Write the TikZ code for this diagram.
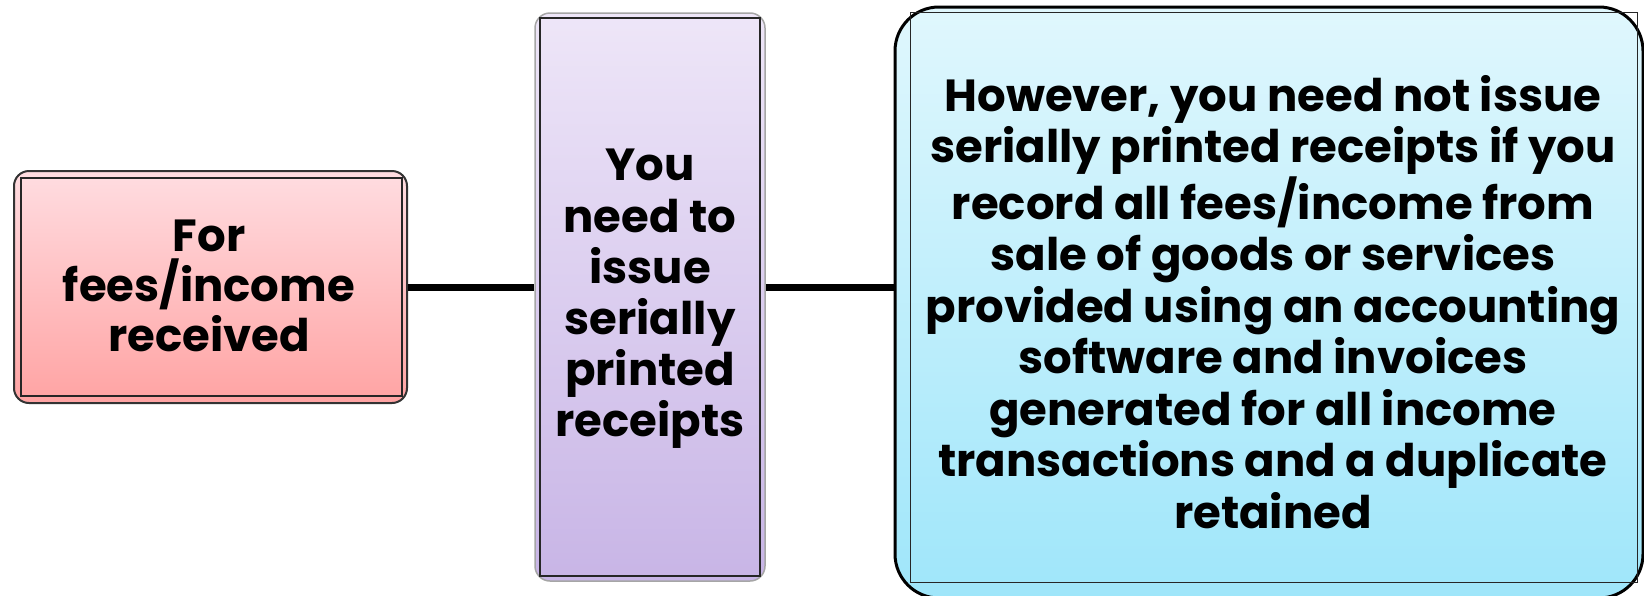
\documentclass[tikz,border=0pt]{standalone}
\usepackage{fontspec}
\setmainfont{Poppins}

\definecolor{pinktop}{HTML}{FFDDE1}
\definecolor{pinkbot}{HTML}{FFA3A3}
\definecolor{lilactop}{HTML}{EEE6F8}
\definecolor{lilacbot}{HTML}{C8B5E6}
\definecolor{skytop}{HTML}{E0F7FD}
\definecolor{skybot}{HTML}{9FE6FA}

\tikzset{
  panel/.style={rounded corners=7.5pt, line width=1pt, draw=black!80},
  frame/.style={line width=1pt, draw=black!85},
  link/.style={line width=3.5pt},
  words/.style={align=center, font=\bfseries\fontsize{22.5}{25.5}\selectfont}
}

\begin{document}
\begin{tikzpicture}[x=0.5pt,y=-0.5pt]
    \useasboundingbox (0,0) rectangle (1644,595);

    % boxes
    \node[panel, top color=pinktop, bottom color=pinkbot,
          minimum width=196.5pt, minimum height=116pt] (fees) at (210.5,287) {};
    \node[panel, draw=black!35, line width=0.75pt, top color=lilactop, bottom color=lilacbot,
          minimum width=115pt, minimum height=284pt] (need) at (650,297) {};
    \node[panel, rounded corners=22pt, line width=1.5pt, draw=black, top color=skytop, bottom color=skybot,
          minimum width=374pt, minimum height=295.5pt] (soft) at (1269,302.5) {};

    \draw[frame] ([shift={(8,8)}]fees.north west) rectangle ([shift={(-6,-8)}]fees.south east);
    \draw[frame] ([shift={(6,6)}]need.north west) rectangle ([shift={(-6,-6)}]need.south east);
    \draw[frame, line width=0.8pt] ([shift={(17,7)}]soft.north west) rectangle ([shift={(-7,-17)}]soft.south east);

    % texts
    \node[words, font=\bfseries\fontsize{22.5}{25}\selectfont] (feestext) at (209,286) {For\\fees/income\\received};
    \node[words, font=\bfseries\fontsize{22.5}{25.6}\selectfont] (needtext) at (650,299) {You\\need to\\issue\\serially\\printed\\receipts};
    \node[words, font=\bfseries\fontsize{22.5}{25.75}\selectfont] (softtext) at (1273,302) {However, you need not issue\\serially printed receipts if you\\record all fees/income from\\sale of goods or services\\provided using an accounting\\software and invoices\\generated for all income\\transactions and a duplicate\\retained};

    % links
    \draw[link] (fees.east) -- (fees.east -| need.west);
    \draw[link] (fees.east -| need.east) -- (fees.east -| soft.west);
\end{tikzpicture}
\end{document}
